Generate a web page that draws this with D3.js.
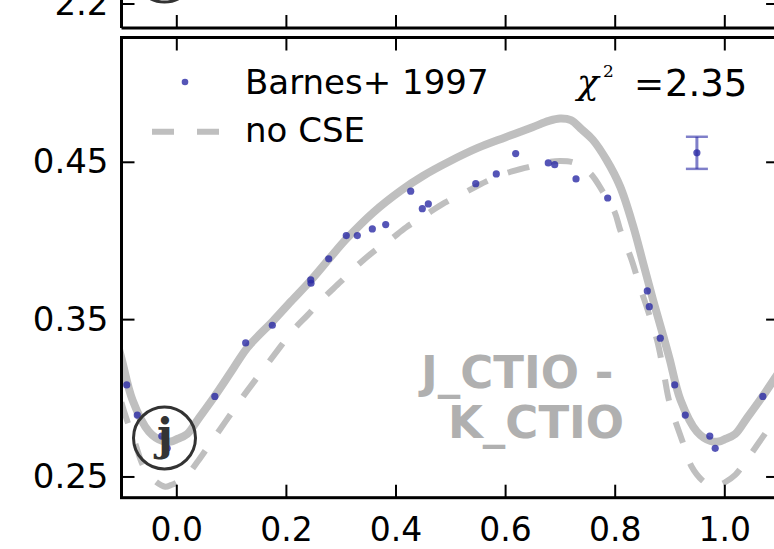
<!DOCTYPE html>
<html>
<head>
<meta charset="utf-8">
<script src="https://cdn.jsdelivr.net/npm/d3@7"></script>
<style>
  html, body { margin: 0; padding: 0; background: #fff; }
  svg { display: block; }
</style>
</head>
<body>
<svg id="chart" width="774" height="549"></svg>
<script>
// ---------------- data ----------------
const xTicks = [0.0, 0.2, 0.4, 0.6, 0.8, 1.0];
const yTicks = [0.25, 0.35, 0.45];
const topPanelTicks = [2.2];

// Barnes+ 1997 observations (phase, J_CTIO - K_CTIO)
const obsPhase = [0.0703, 0.1266, 0.1752, 0.2453, 0.2458, 0.2781, 0.3102, 0.3303, 0.3577, 0.3821,
                  0.4277, 0.4489, 0.4599, 0.5464, 0.5839, 0.6193, 0.6788, 0.6905, 0.7294, 0.7872,
                  0.8595, 0.8631, 0.8832, 0.9095, 0.9288, 0.9735, 0.9834];
const obsColor = [0.3009, 0.3349, 0.3461, 0.3749, 0.3728, 0.3883, 0.4031, 0.4031, 0.4073, 0.4101,
                  0.4313, 0.4202, 0.4232, 0.4361, 0.4423, 0.4552, 0.4493, 0.4482, 0.4391, 0.4270,
                  0.3679, 0.3579, 0.3379, 0.3082, 0.2890, 0.2757, 0.2679];

// model with CSE (solid)
const csePhase = [0.00, 0.02, 0.04, 0.07, 0.10, 0.13, 0.177, 0.21, 0.245, 0.28, 0.311, 0.36,
                  0.41, 0.45, 0.50, 0.55, 0.60, 0.65, 0.68, 0.70, 0.72, 0.74, 0.76, 0.785,
                  0.81, 0.834, 0.852, 0.87, 0.889, 0.90, 0.92, 0.95, 0.975, 0.99];
const cseColor = [0.2735, 0.2770, 0.2865, 0.3010, 0.3165, 0.3320, 0.3490, 0.3615, 0.3745, 0.3888, 0.4012, 0.4180,
                  0.4318, 0.4410, 0.4505, 0.4588, 0.4655, 0.4720, 0.4760, 0.4775, 0.4765, 0.4705, 0.4640, 0.4512,
                  0.4342, 0.4088, 0.3855, 0.3622, 0.3389, 0.3250, 0.2987, 0.2785, 0.2725, 0.2722];

// model without CSE (dashed)
const noPhase = [0.00, 0.02, 0.04, 0.06, 0.09, 0.12, 0.15, 0.19, 0.2135, 0.24, 0.265, 0.30, 0.33, 0.36,
                 0.39, 0.42, 0.455, 0.49, 0.53, 0.565, 0.60, 0.645, 0.675, 0.70, 0.725, 0.755, 0.78,
                 0.80, 0.81, 0.83, 0.846, 0.86, 0.877, 0.89, 0.90, 0.925, 0.94, 0.96, 0.98, 0.99];
const noColor = [0.2460, 0.2510, 0.2600, 0.2700, 0.2850, 0.3000, 0.3140, 0.3325, 0.3431, 0.3527, 0.3622, 0.3738, 0.3840, 0.3929,
                 0.4003, 0.4085, 0.4162, 0.4240, 0.4311, 0.4374, 0.4425, 0.4469, 0.4495, 0.4505, 0.4495, 0.4428, 0.4300,
                 0.4180, 0.4067, 0.3885, 0.3707, 0.3560, 0.3370, 0.3150, 0.2970, 0.2710, 0.2565, 0.2475, 0.2435, 0.2445];

// typical error bar
const errPhase = [0.95];
const errColor = [0.4557];
const errSize = [0.0102];

const legendLabels = ["Barnes+ 1997", "no CSE"];
const chiLabel = "2.35";
const bandLines = ["J_CTIO -", "K_CTIO"];
const panelLetter = "j";

// ---------------- layout ----------------
const svg = d3.select("#chart");
const mLeft = 121.5, mRight = 779.1, mTop = 37.5, mBottom = 497.7;
const x = d3.scaleLinear().domain([-0.1, 1.1]).range([mLeft, mRight]);
const y = d3.scaleLinear().domain([0.2365, 0.529]).range([mBottom, mTop]);
const yTop = d3.scaleLinear().domain([2.15, 2.2]).range([28, 3.5]);

const font = "'DejaVu Sans', 'Bitstream Vera Sans', sans-serif";
const grey = "#bfbfbf";
const blue = "#2a2aa5";
const fs = 34;

// periodic extension over displayed phase range
function periodic(ph, val, lo, hi) {
  const out = [];
  [-1, 0, 1].forEach(k => ph.forEach((p, i) => {
    const q = p + k;
    if (q >= lo && q <= hi) out.push([q, val[i]]);
  }));
  return out.sort((a, b) => a[0] - b[0]);
}

svg.append("defs").append("clipPath").attr("id", "clip")
  .append("rect").attr("x", mLeft).attr("y", mTop).attr("width", mRight - mLeft).attr("height", mBottom - mTop);

// ---------- top (previous) panel remnant ----------
const topG = svg.append("g");
topG.append("line").attr("x1", mLeft).attr("x2", 800).attr("y1", 28).attr("y2", 28)
  .attr("stroke", "#000").attr("stroke-width", 3);
topG.append("line").attr("x1", mLeft).attr("x2", mLeft).attr("y1", -5).attr("y2", 28)
  .attr("stroke", "#000").attr("stroke-width", 3);
topG.append("circle").attr("cx", 164.5).attr("cy", -29).attr("r", 31)
  .attr("fill", "none").attr("stroke", "#333").attr("stroke-width", 3);
const tTopAxis = topG.append("g").attr("transform", "translate(0,28)")
  .call(d3.axisTop(x).tickValues(xTicks).tickSize(13).tickSizeOuter(0).tickFormat(""));
const tTopLeft = topG.append("g").attr("transform", `translate(${mLeft},0)`)
  .call(d3.axisLeft(yTop).tickValues(topPanelTicks).tickSize(-13).tickPadding(13).tickSizeOuter(0).tickFormat(d3.format(".1f")));
const tTopRight = topG.append("g").attr("transform", `translate(${mRight},0)`)
  .call(d3.axisRight(yTop).tickValues(topPanelTicks).tickSize(-13).tickSizeOuter(0).tickFormat(""));

// ---------- main panel ----------
const plot = svg.append("g").attr("clip-path", "url(#clip)");

const line = d3.line().x(d => x(d[0])).y(d => y(d[1])).curve(d3.curveCatmullRom.alpha(0.5));

plot.append("path").datum(periodic(csePhase, cseColor, -0.3, 1.3))
  .attr("d", line).attr("fill", "none").attr("stroke", grey).attr("stroke-width", 8)
  .attr("stroke-linejoin", "round");

plot.append("path").datum(periodic(noPhase, noColor, -0.3, 1.3))
  .attr("d", line).attr("fill", "none").attr("stroke", grey).attr("stroke-width", 6)
  .attr("stroke-dasharray", "22,22");

// band label
const bandG = svg.append("g").attr("fill", "#b0b0b0").attr("font-family", font)
  .attr("font-weight", "bold").attr("font-size", 45);
bandG.append("text").attr("x", 421).attr("y", 388).text(bandLines[0]);
bandG.append("text").attr("x", 448).attr("y", 438).text(bandLines[1]);

// observations
const obs = periodic(obsPhase, obsColor, -0.1, 1.1);
plot.selectAll("circle.obs").data(obs).enter().append("circle")
  .attr("class", "obs").attr("cx", d => x(d[0])).attr("cy", d => y(d[1])).attr("r", 3.6)
  .attr("fill", blue).attr("fill-opacity", 0.8);

// error bar
const eg = svg.append("g");
errPhase.forEach((p, i) => {
  const cx = x(p);
  eg.append("line").attr("x1", cx).attr("x2", cx).attr("y1", y(errColor[i] - errSize[i])).attr("y2", y(errColor[i] + errSize[i]))
    .attr("stroke", blue).attr("stroke-opacity", 0.6).attr("stroke-width", 3);
  [errColor[i] - errSize[i], errColor[i] + errSize[i]].forEach(v => {
    eg.append("line").attr("x1", cx - 11).attr("x2", cx + 11).attr("y1", y(v)).attr("y2", y(v))
      .attr("stroke", blue).attr("stroke-opacity", 0.6).attr("stroke-width", 2.5);
  });
  eg.append("circle").attr("cx", cx).attr("cy", y(errColor[i])).attr("r", 3.6)
    .attr("fill", blue).attr("fill-opacity", 0.8);
});

// panel letter
svg.append("circle").attr("cx", 164.5).attr("cy", 438).attr("r", 31)
  .attr("fill", "none").attr("stroke", "#333").attr("stroke-width", 3);
svg.append("text").attr("x", 165).attr("y", 450).attr("text-anchor", "middle")
  .attr("font-family", "'DejaVu Serif', serif").attr("font-weight", "bold").attr("font-size", 44)
  .attr("fill", "#333").text(panelLetter);

// frame
svg.append("rect").attr("x", mLeft).attr("y", mTop).attr("width", mRight - mLeft).attr("height", mBottom - mTop)
  .attr("fill", "none").attr("stroke", "#000").attr("stroke-width", 3);

// axes
const ax = svg.append("g").attr("font-family", font);
const xb = ax.append("g").attr("transform", `translate(0,${mBottom})`)
  .call(d3.axisBottom(x).tickValues(xTicks).tickSize(-13).tickSizeOuter(0).tickPadding(20).tickFormat(d3.format(".1f")));
const xt = ax.append("g").attr("transform", `translate(0,${mTop})`)
  .call(d3.axisTop(x).tickValues(xTicks).tickSize(-13).tickSizeOuter(0).tickFormat(""));
const yl = ax.append("g").attr("transform", `translate(${mLeft},0)`)
  .call(d3.axisLeft(y).tickValues(yTicks).tickSize(-13).tickSizeOuter(0).tickPadding(13).tickFormat(d3.format(".2f")));
const yr = ax.append("g").attr("transform", `translate(${mRight},0)`)
  .call(d3.axisRight(y).tickValues(yTicks).tickSize(-13).tickSizeOuter(0).tickFormat(""));

[xb, xt, yl, yr, tTopAxis, tTopLeft, tTopRight].forEach(g => {
  g.select(".domain").remove();
  g.selectAll(".tick line").attr("stroke", "#000").attr("stroke-width", 2);
  g.selectAll(".tick text").attr("font-family", font).attr("font-size", fs).attr("fill", "#000");
});
xb.selectAll(".tick text").attr("font-size", 33);

// legend
const lg = svg.append("g").attr("font-family", font).attr("font-size", fs);
lg.append("circle").attr("cx", 185).attr("cy", 82).attr("r", 3.3).attr("fill", blue).attr("fill-opacity", 0.8);
lg.append("text").attr("x", 245).attr("y", 93.5).text(legendLabels[0]);
lg.append("line").attr("x1", 152).attr("x2", 219).attr("y1", 131.7).attr("y2", 131.7)
  .attr("stroke", grey).attr("stroke-width", 6).attr("stroke-dasharray", "22,23");
lg.append("text").attr("x", 245).attr("y", 141.7).text(legendLabels[1]);

// chi-square
const cg = svg.append("g");
cg.append("text").attr("x", 577).attr("y", 94).attr("font-family", "'DejaVu Serif', serif")
  .attr("font-style", "italic").attr("font-size", 36).text("χ");
cg.append("text").attr("x", 603).attr("y", 77).attr("font-family", "'DejaVu Serif', serif")
  .attr("font-size", 17).text("2");
cg.append("text").attr("x", 634).attr("y", 96).attr("font-family", "'DejaVu Serif', serif")
  .attr("font-size", 36).text("=");
cg.append("text").attr("x", 665).attr("y", 95.5).attr("font-family", font)
  .attr("font-size", 37).text(chiLabel);
</script>
</body>
</html>
